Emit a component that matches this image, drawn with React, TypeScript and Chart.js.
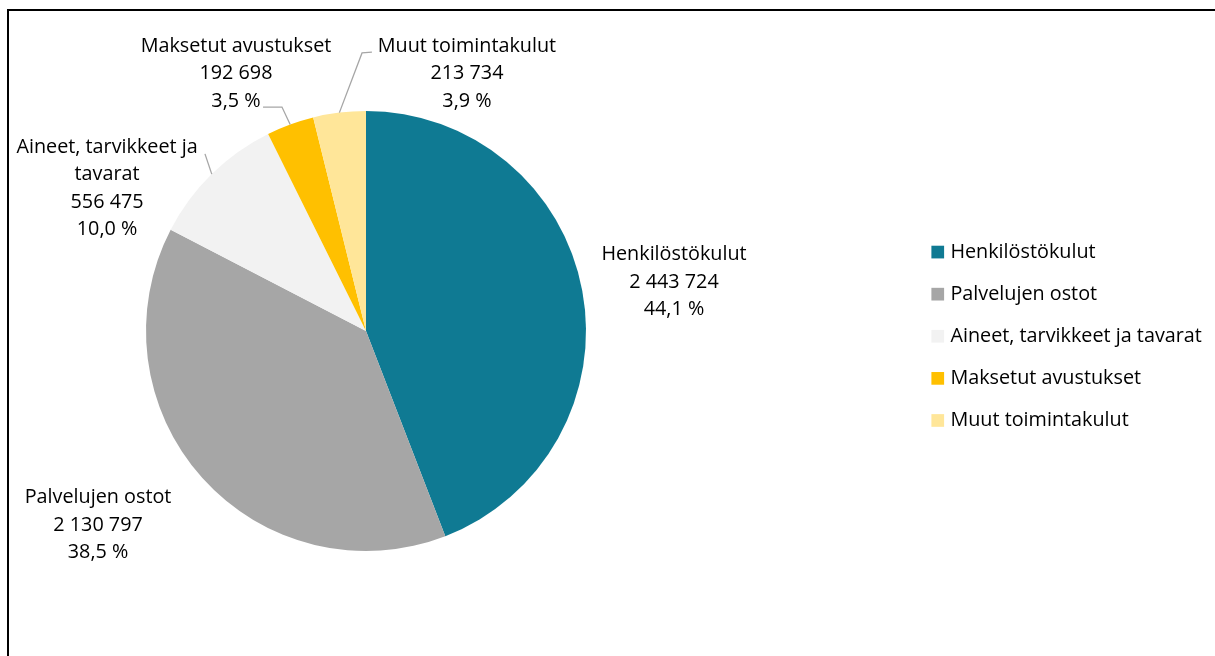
import React, { useEffect, useRef } from "react";
import { Chart, registerables } from "chart.js";

Chart.register(...registerables);

const categories = [
  "Henkilöstökulut",
  "Palvelujen ostot",
  "Aineet, tarvikkeet ja tavarat",
  "Maksetut avustukset",
  "Muut toimintakulut",
];
const values = [2443724, 2130797, 556475, 192698, 213734];
const labelNameLines = [
  ["Henkilöstökulut"],
  ["Palvelujen ostot"],
  ["Aineet, tarvikkeet ja", "tavarat"],
  ["Maksetut avustukset"],
  ["Muut toimintakulut"],
];
const colors = ["#0F7A93", "#A6A6A6", "#F2F2F2", "#FFC000", "#FFE699"];

// label layout in units of the pie radius, relative to the pie centre
const labelLayout: { dx: number; dy: number; leader?: number[][] }[] = [
  { dx: 1.4, dy: -0.223 },
  { dx: -1.218, dy: 0.882 },
  { dx: -1.177, dy: -0.648, leader: [[-0.732, -0.805]] },
  { dx: -0.591, dy: -1.17, leader: [[-0.382, -1.018], [-0.468, -1.018]] },
  { dx: 0.459, dy: -1.17, leader: [[-0.018, -1.264], [0.027, -1.268]] },
];

const FONT = "19.8px 'Open Sans'";
const LINE_H = 27.3;

function fmtNum(n: number) {
  return String(n).replace(/\B(?=(\d{3})+(?!\d))/g, " ");
}

const total = values.reduce((a, b) => a + b, 0);
function fmtPct(n: number) {
  return ((n / total) * 100).toFixed(1).replace(".", ",") + " %";
}

const framePlugin = {
  id: "frame",
  beforeDraw(chart: any) {
    const ctx = chart.ctx;
    ctx.save();
    ctx.fillStyle = "#ffffff";
    ctx.fillRect(0, 0, chart.width, chart.height);
    ctx.fillStyle = "#000000";
    ctx.fillRect(7, 9, 2, chart.height);
    ctx.fillRect(7, 9, chart.width, 2);
    ctx.restore();
  },
};

const labelPlugin = {
  id: "pieLabels",
  afterDatasetsDraw(chart: any) {
    const ctx = chart.ctx;
    const meta = chart.getDatasetMeta(0);
    ctx.save();
    ctx.font = FONT;
    ctx.textAlign = "center";
    ctx.textBaseline = "middle";
    meta.data.forEach((arc: any, i: number) => {
      const { x, y, startAngle, endAngle, outerRadius } = arc.getProps(
        ["x", "y", "startAngle", "endAngle", "outerRadius"],
        true
      );
      const r = outerRadius;
      const lay = labelLayout[i];
      if (lay.leader) {
        const mid = (startAngle + endAngle) / 2;
        ctx.beginPath();
        ctx.strokeStyle = "#A6A6A6";
        ctx.lineWidth = 1.3;
        ctx.moveTo(x + Math.cos(mid) * r, y + Math.sin(mid) * r);
        lay.leader.forEach((p) => ctx.lineTo(x + p[0] * r, y + p[1] * r));
        ctx.stroke();
      }
      const lines = [...labelNameLines[i], fmtNum(values[i]), fmtPct(values[i])];
      const cx = x + lay.dx * r;
      const cy = y + lay.dy * r;
      const top = cy - ((lines.length - 1) * LINE_H) / 2;
      ctx.fillStyle = "#000000";
      lines.forEach((t, k) => ctx.fillText(t, cx, top + k * LINE_H));
    });
    ctx.restore();
  },
};

const legendPlugin = {
  id: "sideLegend",
  afterDraw(chart: any) {
    const ctx = chart.ctx;
    const meta = chart.getDatasetMeta(0);
    const arc = meta.data[0];
    const { x, y, outerRadius } = arc.getProps(["x", "y", "outerRadius"], true);
    const boxX = x + outerRadius * 2.57;
    const step = 42.1;
    const startY = y - outerRadius * 0.359;
    ctx.save();
    ctx.font = FONT;
    ctx.textAlign = "left";
    ctx.textBaseline = "middle";
    categories.forEach((c, i) => {
      const cy = startY + i * step;
      ctx.fillStyle = colors[i];
      ctx.fillRect(boxX, cy - 6.3, 12.7, 12.7);
      ctx.fillStyle = "#000000";
      ctx.fillText(c, boxX + 19, cy);
    });
    ctx.restore();
  },
};

export default function App() {
  const ref = useRef<HTMLCanvasElement | null>(null);
  useEffect(() => {
    if (!ref.current) return;
    const chart = new Chart(ref.current, {
      type: "pie",
      data: {
        labels: categories,
        datasets: [
          {
            data: values,
            backgroundColor: colors,
            borderWidth: 0,
          },
        ],
      },
      options: {
        animation: false,
        responsive: false,
        maintainAspectRatio: false,
        layout: { padding: { left: 146, top: 111, right: 629, bottom: 105 } },
        plugins: {
          legend: { display: false },
          tooltip: { enabled: false },
        },
      },
      plugins: [framePlugin, labelPlugin, legendPlugin],
    });
    return () => chart.destroy();
  }, []);
  return (
    <div style={{ position: "absolute", left: 0, top: 0, width: 1215, height: 656, overflow: "hidden" }}>
      <canvas ref={ref} width={1215} height={656} style={{ display: "block" }} />
    </div>
  );
}
